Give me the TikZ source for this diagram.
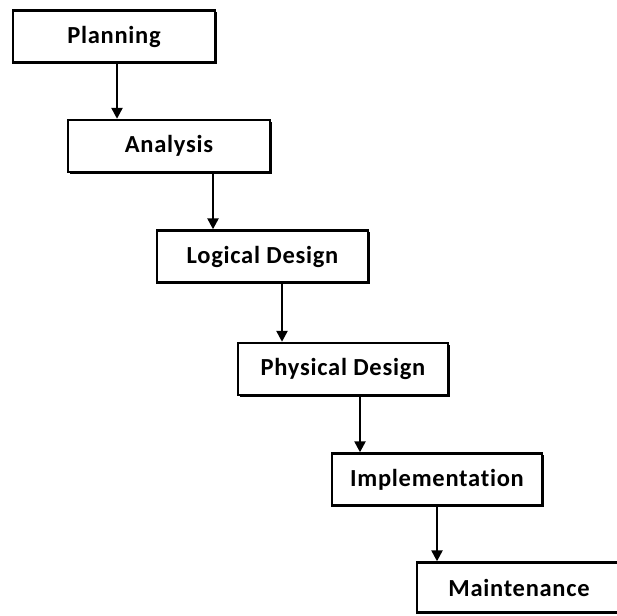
\documentclass[tikz,border=0pt]{standalone}
\usepackage{fontspec}
\setmainfont{Carlito}[Ligatures=NoCommon, LetterSpace=3]
\usetikzlibrary{arrows.meta,shadows}
\begin{document}
\begin{tikzpicture}[x=1pt,y=-1pt,
  stage/.style={draw=black, line width=2.4pt, fill=white, minimum height=52pt,
    inner sep=0pt, font=\fontsize{24.5}{26}\selectfont\bfseries,
    drop shadow={shadow xshift=1.6pt, shadow yshift=-1.6pt, fill=black, opacity=1}},
  arr/.style={line width=2.4pt, -{Triangle[width=11pt,length=11pt]}}]
\useasboundingbox (0,0) rectangle (617,615);
\node[stage, minimum width=202pt] (plan) at (114,36.5) {Planning};
\node[stage, minimum width=202pt] (ana) at (169,146) {Analysis};
\node[stage, minimum width=211pt] (log) at (262.5,256.5) {Logical Design};
\node[stage, minimum width=210pt] (phy) at (343,369) {Physical Design};
\node[stage, minimum width=210pt] (imp) at (437,479.5) {Implementation};
\node[stage, minimum width=210pt, minimum height=50pt] (mai) at (522,587.5) {\hspace*{-6pt}Maintenance};
\draw[arr] (plan.south -| 117,0) -- (ana.north -| 117,0);
\draw[arr] (ana.south -| 213,0) -- (log.north -| 213,0);
\draw[arr] (log.south -| 282,0) -- (phy.north -| 282,0);
\draw[arr] (phy.south -| 360,0) -- (imp.north -| 360,0);
\draw[arr] (imp.south -| 437,0) -- (mai.north -| 437,0);
\end{tikzpicture}
\end{document}
